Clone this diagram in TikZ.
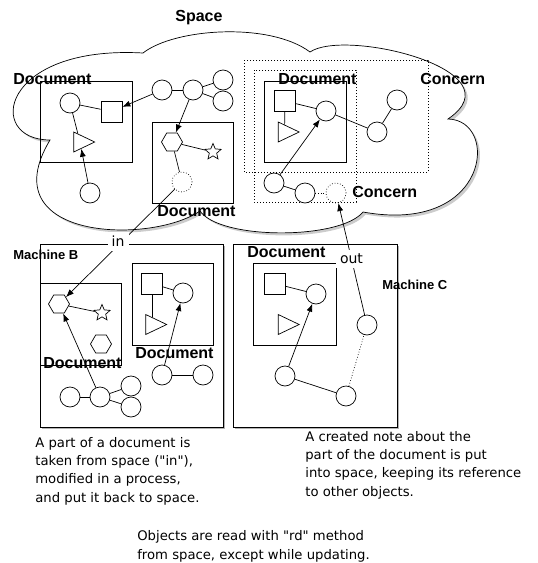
\documentclass[tikz,border=0pt]{standalone}
\usepackage{fontspec}
\setmainfont{DejaVu Sans}[Ligatures=TeXOff]
\newfontfamily\labelfont{Liberation Sans}
\usetikzlibrary{shapes.geometric,arrows.meta,shadows}

\begin{document}
\begin{tikzpicture}[x=1pt,y=-1pt,line width=0.7pt,
    obj/.style={circle,draw,fill=white,minimum size=20pt,inner sep=0pt},
    ghost/.style={circle,draw,dotted,minimum size=20pt,inner sep=0pt},
    sq/.style={rectangle,draw,fill=white,minimum size=21pt,inner sep=0pt},
    tri/.style={isosceles triangle,isosceles triangle stretches,draw,fill=white,minimum width=20pt,minimum height=21pt,inner sep=0pt},
    hexa/.style={regular polygon,regular polygon sides=6,draw,fill=white,minimum size=21pt,inner sep=0pt},
    staro/.style={star,star points=5,star point ratio=2.2,draw,fill=white,minimum size=17pt,inner sep=0pt},
    title/.style={font=\labelfont\bfseries\fontsize{16}{19}\selectfont,inner sep=0pt,anchor=west},
    machine/.style={font=\labelfont\bfseries\fontsize{13}{15}\selectfont,inner sep=0pt,anchor=west},
    note/.style={font=\fontsize{13.2}{18.3}\selectfont,align=left,inner sep=0pt,anchor=north west},
    io/.style={font=\fontsize{14}{16}\selectfont,fill=white,inner sep=4pt},
    ref/.style={-{Latex[length=8pt,width=6pt]}},
    mbox/.style={draw,fill=white,drop shadow={shadow xshift=1.5pt,shadow yshift=-1.5pt,opacity=0.6}},
    concern/.style={draw,dash pattern=on 1pt off 2pt}]
    \useasboundingbox (0,0) rectangle (538,563);
    % the space
    \draw[fill=white,drop shadow={shadow xshift=2.5pt,shadow yshift=-2.5pt,opacity=0.4}] (50,140) .. controls (-15,140) and (0,45) .. (143,53)
        .. controls (175,28) and (270,22) .. (310,52)
        .. controls (345,28) and (520,70) .. (448,119)
        .. controls (500,120) and (490,235) .. (363,212)
        .. controls (340,240) and (220,240) .. (200,211)
        .. controls (150,245) and (-10,240) .. (50,140) -- cycle;
    \draw[concern] (244,60) rectangle (428,172);
    \draw[concern] (254,70) rectangle (356,202);
    \draw (40,81) rectangle (132,162);
    \draw (152,122) rectangle (233,203);
    \draw (264,81) rectangle (346,162);
    % machines
    \draw[mbox] (40,244) rectangle (223,427);
    \draw[mbox] (233,244) rectangle (397,427);
    \draw (40,283) rectangle (121,365);
    \draw (132,263) rectangle (213,345);
    \draw (253,263) rectangle (336,345);

    % objects in space
    \node[obj] (la) at (70,103) {};
    \node[sq] (lsq) at (111.5,111.5) {};
    \node[tri] (ltri) at (80,142) {};
    \node[obj] (lbot) at (90,193) {};
    \node[obj] (c1) at (162,90) {};
    \node[obj] (c2) at (193,90) {};
    \node[obj] (c3) at (223,80) {};
    \node[obj] (c4) at (223,101) {};
    \node[hexa] (mhex) at (172,142) {};
    \node[staro] (mstar) at (213,152) {};
    \node[ghost] (mghost) at (182,182) {};
    \node[sq] (rsq) at (285,101) {};
    \node[tri] (rtri) at (284.5,132) {};
    \node[obj] (ra) at (326,111) {};
    \node[obj] (rb) at (377,132) {};
    \node[obj] (rc) at (397,100) {};
    \node[obj] (rd) at (274,183) {};
    \node[obj] (re) at (305,193) {};
    \node[ghost] (rghost) at (336,193) {};
    % objects in machine B
    \node[hexa] (bhex) at (59,304) {};
    \node[staro] (bstar) at (102,313) {};
    \node[hexa] (bhex2) at (101,344) {};
    \node[sq] (bsq) at (152,283.5) {};
    \node[tri] (btri) at (152,324.5) {};
    \node[obj] (ba) at (183,293) {};
    \node[obj] (bc1) at (70,397) {};
    \node[obj] (bc2) at (100,397) {};
    \node[obj] (bc3) at (131,386) {};
    \node[obj] (bc4) at (131,407) {};
    \node[obj] (bd) at (162,375) {};
    \node[obj] (be) at (203,375) {};
    % objects in machine C
    \node[sq] (csq) at (274.5,283.5) {};
    \node[obj] (ca) at (316,294) {};
    \node[tri] (ctri) at (284.5,324.5) {};
    \node[obj] (cd) at (285,376) {};
    \node[obj] (ce) at (346,396) {};
    \node[obj] (cf) at (367,325) {};

    \draw (la) -- (lsq);
    \draw (la) -- (ltri);
    \draw[ref] (lbot) -- (ltri);
    \draw (c1) -- (c2);
    \draw (c2) -- (c3);
    \draw (c2) -- (c4);
    \draw[ref] (c1) -- (lsq);
    \draw[ref] (c2) -- (mhex);
    \draw (mhex) -- (mstar);
    \draw (mhex) -- (mghost);
    \draw (rsq) -- (ra);
    \draw (rsq) -- (rtri);
    \draw (ra) -- (rb);
    \draw (rb) -- (rc);
    \draw[ref] (rd) -- (ra);
    \draw (rd) -- (re);
    \draw[dotted] (re) -- (rghost);
    \draw (bhex) -- (bstar);
    \draw (bc1) -- (bc2);
    \draw (bc2) -- (bc3);
    \draw (bc2) -- (bc4);
    \draw[ref] (bc2) -- (bhex);
    \draw (bsq) -- (ba);
    \draw (bsq) -- (btri);
    \draw (bd) -- (be);
    \draw[ref] (bd) -- (ba);
    \draw (csq) -- (ca);
    \draw[ref] (cd) -- (ca);
    \draw (cd) -- (ce);
    \draw[dotted] (ce) -- (cf);
    \draw[ref] (mghost) -- node[io,pos=0.52,yshift=4pt] {in} (bhex);
    \draw[ref] (cf) -- node[io,pos=0.5] {out} (rghost);

    % labels
    \node[title] (space) at (175,18) {Space};
    \node[title] (docl) at (13,79) {Document};
    \node[title] (docm) at (157,211) {Document};
    \node[title] (docr) at (278,79) {Document};
    \node[title] (conc1) at (420,79) {Concern};
    \node[title] (conc2) at (352,192) {Concern};
    \node[machine] (machb) at (13,255) {Machine B};
    \node[title] (docb1) at (43,363) {Document};
    \node[title] (docb2) at (135,353) {Document};
    \node[title] (docc) at (247,252) {Document};
    \node[machine] (machc) at (382,285) {Machine C};
    \node[note] (noteb) at (35,437) {A part of a document is\\taken from space ("in"),\\modified in a process,\\and put it back to space.};
    \node[note] (notec) at (305,431) {A created note about the\\part of the document is put\\into space, keeping its reference\\to other objects.};
    \node[note,font=\fontsize{13.2}{19.5}\selectfont] (noterd) at (137,530) {Objects are read with "rd" method\\from space, except while updating.};
\end{tikzpicture}
\end{document}
